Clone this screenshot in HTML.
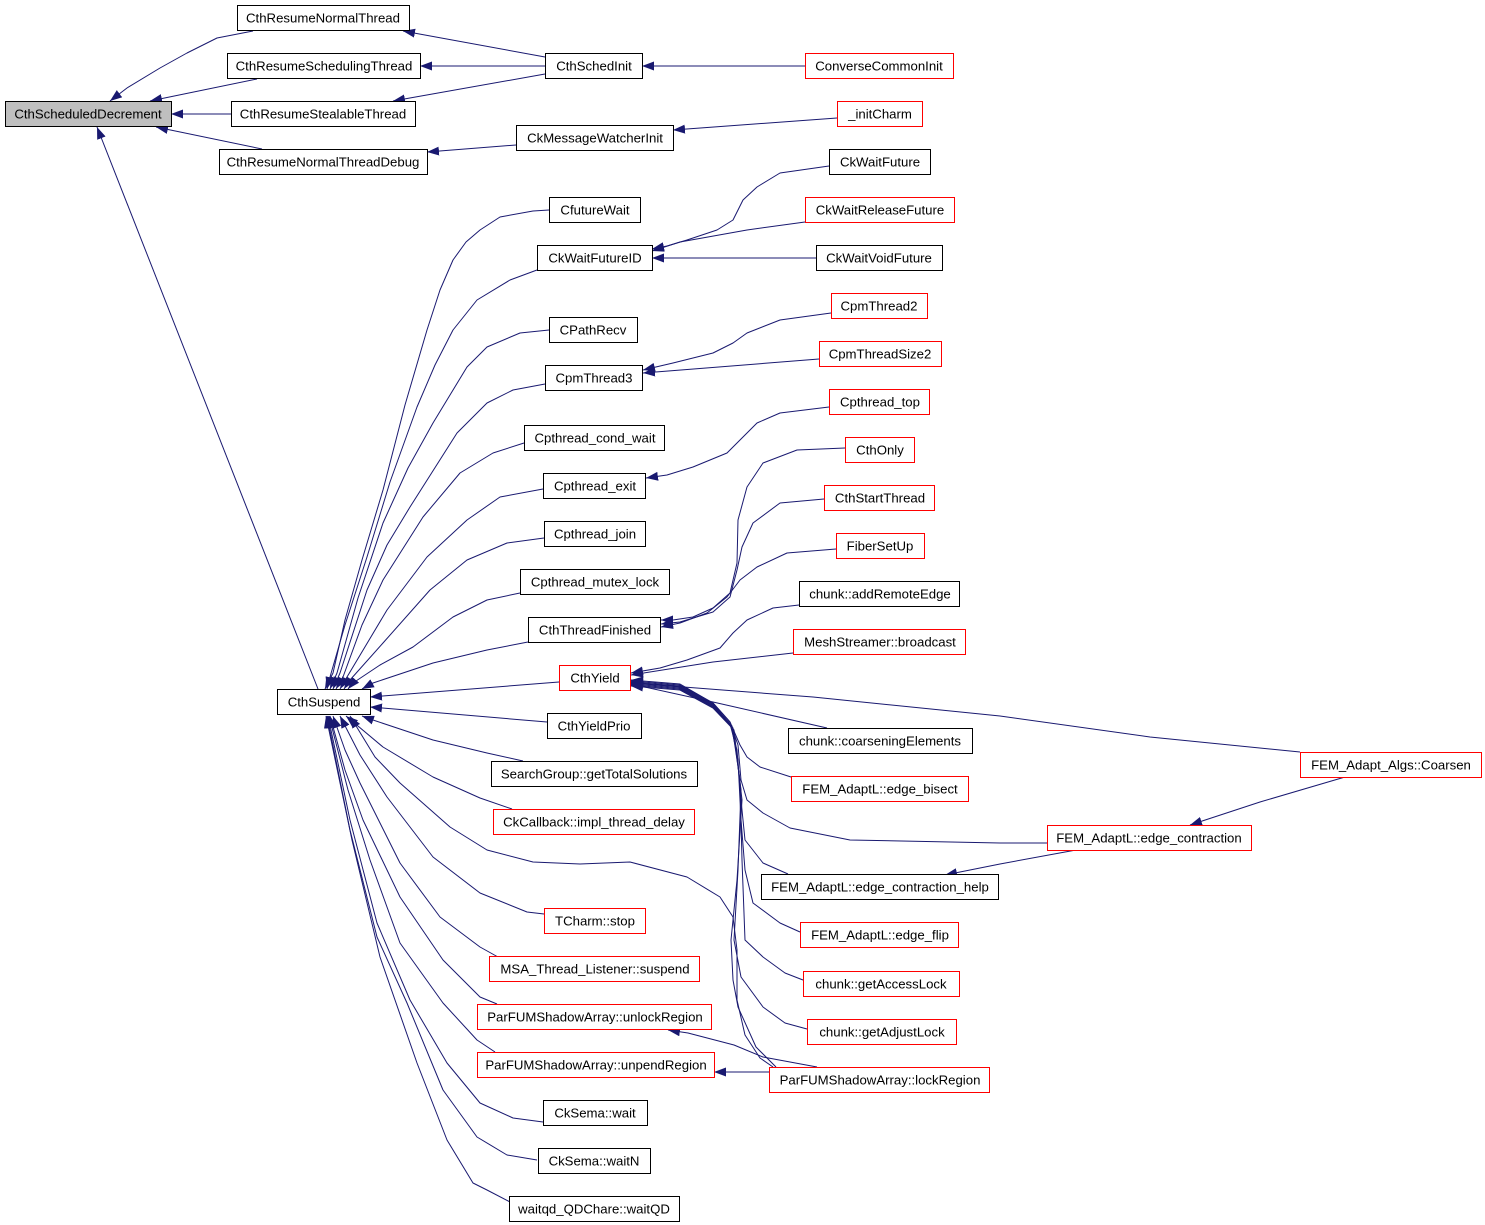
<!DOCTYPE html>
<html><head><meta charset="utf-8"><style>
html,body{margin:0;padding:0;background:#fff;}
svg{display:block;}
text{font-family:"Liberation Sans",Arial,sans-serif;font-size:13.2px;fill:#000;text-anchor:middle;}
.e{fill:none;stroke:#191970;stroke-width:1;stroke-linejoin:round;marker-start:url(#a);}
.b{fill:#fff;stroke:#000;stroke-width:1;}
.r{fill:#fff;stroke:#ff0000;stroke-width:1;}
.g{fill:#bfbfbf;stroke:#000;stroke-width:1;}
</style></head><body>
<svg width="1485" height="1225" viewBox="0 0 1485 1225" xmlns="http://www.w3.org/2000/svg">
<defs>
<marker id="a" viewBox="0 0 12 9" refX="12" refY="4.5" markerWidth="12" markerHeight="9" markerUnits="userSpaceOnUse" orient="auto-start-reverse">
<path d="M0,0 L12,4.5 L0,9 z" fill="#191970"/>
</marker>
</defs>

<!-- edges -->
<polyline class="e" points="110,101 127,88 160,68 187,53 217,38 253,31"/>
<polyline class="e" points="150,101 257,79"/>
<polyline class="e" points="171,114 231,114"/>
<polyline class="e" points="156,127 262,149"/>
<polyline class="e" points="97,127 318,689"/>
<polyline class="e" points="403,31 545,57"/>
<polyline class="e" points="420,66 545,66"/>
<polyline class="e" points="393,101 545,74"/>
<polyline class="e" points="642,66 805,66"/>
<polyline class="e" points="673,130 837,118"/>
<polyline class="e" points="427,152 516,145"/>
<polyline class="e" points="652,249 667,246 687,240 717,230 733,220 743,200 757,187 780,173 829,166"/>
<polyline class="e" points="652,251 680,242 747,230 805,222"/>
<polyline class="e" points="652,258 816,258"/>
<polyline class="e" points="643,370 673,363 713,353 733,343 747,333 780,320 831,313"/>
<polyline class="e" points="643,373 819,359"/>
<polyline class="e" points="646,478 667,475 693,467 727,453 743,437 757,423 780,413 829,407"/>
<polyline class="e" points="661,620 673,620 693,617 713,608 730,593 737,563 738,520 747,487 763,463 797,450 845,448"/>
<polyline class="e" points="661,624 680,622 713,612 730,597 737,570 742,547 753,523 780,503 824,499"/>
<polyline class="e" points="661,627 680,623 707,613 727,597 740,580 757,567 787,553 836,549"/>
<polyline class="e" points="631,673 660,668 687,660 720,648 733,633 747,620 773,608 799,605"/>
<polyline class="e" points="631,675 713,662 793,653"/>
<polyline class="e" points="631,683 813,697 1000,716 1150,737 1300,752"/>
<polyline class="e" points="631,684 713,702 827,728"/>
<polyline class="e" points="631,680 680,684 713,703 730,722 740,745 747,757 760,767 791,777"/>
<polyline class="e" points="631,681 680,685 713,703 730,722 738,745 741,780 747,800 763,813 790,828 850,840 1000,843 1047,843"/>
<polyline class="e" points="631,682 680,686 713,704 730,724 737,750 740,790 745,840 763,863 788,874"/>
<polyline class="e" points="631,683 680,687 713,705 731,725 738,760 741,820 745,870 753,903 780,923 800,932"/>
<polyline class="e" points="631,684 680,688 713,706 732,726 740,780 742,860 745,940 763,957 785,973 803,980"/>
<polyline class="e" points="631,685 680,689 713,707 733,728 741,790 738,870 734,940 741,977 763,1007 785,1023 807,1029"/>
<polyline class="e" points="631,686 680,690 713,708 734,730 742,800 737,880 731,940 733,980 738,1007 756,1047 776,1067"/>
<polyline class="e" points="350,716 375,757 400,783 450,827 487,850 533,862 580,864 630,862 687,877 720,897 733,917 737,950 737,1000 745,1035 760,1058 773,1067"/>
<polyline class="e" points="668,1030 688,1033 734,1045 763,1057 817,1067"/>
<polyline class="e" points="714,1072 769,1072"/>
<polyline class="e" points="945,875 1000,864 1076,850"/>
<polyline class="e" points="1190,825 1260,802 1345,777"/>

<polyline class="e" points="325,689 333,673 345,620 362,560 383,490 405,405 427,330 440,290 453,260 466,242 480,230 500,217 533,211 549,210"/>
<polyline class="e" points="327,689 330,677 345,625 367,557 390,482 417,407 435,365 453,330 477,300 510,280 537,270"/>
<polyline class="e" points="330,689 337,673 358,598 383,523 408,468 433,423 467,367 487,347 520,333 549,330"/>
<polyline class="e" points="333,689 340,673 367,590 387,545 410,507 457,433 487,403 513,390 545,384"/>
<polyline class="e" points="336,689 343,677 362,625 383,580 423,517 460,473 493,453 524,443"/>
<polyline class="e" points="340,689 347,677 387,610 427,557 467,520 500,497 543,489"/>
<polyline class="e" points="344,689 350,680 383,643 430,590 467,560 507,543 544,538"/>
<polyline class="e" points="348,689 353,683 380,665 413,647 453,617 487,600 520,593"/>
<polyline class="e" points="362,689 373,683 433,663 487,650 528,642"/>
<polyline class="e" points="370,697 559,682"/>
<polyline class="e" points="370,707 547,722"/>
<polyline class="e" points="362,716 373,720 433,740 487,753 523,761"/>
<polyline class="e" points="346,716 383,747 433,777 480,798 512,809"/>
<polyline class="e" points="340,716 360,755 387,797 433,857 480,893 527,912 544,914"/>
<polyline class="e" points="333,716 345,750 360,783 400,863 440,917 480,947 498,957"/>
<polyline class="e" points="330,716 345,770 363,820 400,897 443,960 480,997 497,1004"/>
<polyline class="e" points="329,716 348,790 370,860 400,943 443,1003 477,1040 495,1052"/>
<polyline class="e" points="328,716 350,820 377,923 410,1000 447,1063 480,1103 513,1118 543,1122"/>
<polyline class="e" points="327,716 350,830 377,937 407,1003 443,1090 477,1137 507,1155 537,1160"/>
<polyline class="e" points="326,716 352,840 380,957 417,1063 447,1140 473,1183 487,1190 510,1202"/>

<!-- nodes -->
<rect class="g" x="5.5" y="101.5" width="166" height="25"/><text x="88" y="118.5">CthScheduledDecrement</text>
<rect class="b" x="237.5" y="5.5" width="172" height="25"/><text x="323" y="22.5">CthResumeNormalThread</text>
<rect class="b" x="227.5" y="53.5" width="193" height="25"/><text x="324" y="70.5">CthResumeSchedulingThread</text>
<rect class="b" x="231.5" y="101.5" width="184" height="25"/><text x="323" y="118.5">CthResumeStealableThread</text>
<rect class="b" x="219.5" y="149.5" width="208" height="25"/><text x="323" y="166.5">CthResumeNormalThreadDebug</text>
<rect class="b" x="545.5" y="53.5" width="97" height="25"/><text x="594" y="70.5">CthSchedInit</text>
<rect class="r" x="805.5" y="53.5" width="148" height="25"/><text x="879" y="70.5">ConverseCommonInit</text>
<rect class="r" x="837.5" y="101.5" width="85" height="25"/><text x="880" y="118.5">_initCharm</text>
<rect class="b" x="516.5" y="125.5" width="157" height="25"/><text x="595" y="142.5">CkMessageWatcherInit</text>
<rect class="b" x="829.5" y="149.5" width="101" height="25"/><text x="880" y="166.5">CkWaitFuture</text>
<rect class="b" x="549.5" y="197.5" width="91" height="25"/><text x="595" y="214.5">CfutureWait</text>
<rect class="r" x="805.5" y="197.5" width="149" height="25"/><text x="880" y="214.5">CkWaitReleaseFuture</text>
<rect class="b" x="537.5" y="245.5" width="115" height="25"/><text x="595" y="262.5">CkWaitFutureID</text>
<rect class="b" x="816.5" y="245.5" width="126" height="25"/><text x="879" y="262.5">CkWaitVoidFuture</text>
<rect class="r" x="831.5" y="293.5" width="96" height="25"/><text x="879" y="310.5">CpmThread2</text>
<rect class="b" x="549.5" y="317.5" width="88" height="25"/><text x="593" y="334.5">CPathRecv</text>
<rect class="r" x="819.5" y="341.5" width="122" height="25"/><text x="880" y="358.5">CpmThreadSize2</text>
<rect class="b" x="545.5" y="365.5" width="97" height="25"/><text x="594" y="382.5">CpmThread3</text>
<rect class="r" x="829.5" y="389.5" width="100" height="25"/><text x="880" y="406.5">Cpthread_top</text>
<rect class="b" x="524.5" y="425.5" width="140" height="25"/><text x="595" y="442.5">Cpthread_cond_wait</text>
<rect class="r" x="845.5" y="437.5" width="69" height="25"/><text x="880" y="454.5">CthOnly</text>
<rect class="b" x="543.5" y="473.5" width="102" height="25"/><text x="595" y="490.5">Cpthread_exit</text>
<rect class="r" x="824.5" y="485.5" width="110" height="25"/><text x="880" y="502.5">CthStartThread</text>
<rect class="b" x="544.5" y="521.5" width="101" height="25"/><text x="595" y="538.5">Cpthread_join</text>
<rect class="r" x="836.5" y="533.5" width="88" height="25"/><text x="880" y="550.5">FiberSetUp</text>
<rect class="b" x="520.5" y="569.5" width="149" height="25"/><text x="595" y="586.5">Cpthread_mutex_lock</text>
<rect class="b" x="799.5" y="581.5" width="160" height="25"/><text x="880" y="598.5">chunk::addRemoteEdge</text>
<rect class="b" x="528.5" y="617.5" width="132" height="25"/><text x="595" y="634.5">CthThreadFinished</text>
<rect class="r" x="793.5" y="629.5" width="172" height="25"/><text x="880" y="646.5">MeshStreamer::broadcast</text>
<rect class="r" x="559.5" y="665.5" width="71" height="25"/><text x="595" y="682.5">CthYield</text>
<rect class="b" x="277.5" y="689.5" width="93" height="25"/><text x="324" y="706.5">CthSuspend</text>
<rect class="b" x="547.5" y="713.5" width="94" height="25"/><text x="594" y="730.5">CthYieldPrio</text>
<rect class="b" x="788.5" y="728.5" width="184" height="25"/><text x="880" y="745.5">chunk::coarseningElements</text>
<rect class="b" x="491.5" y="761.5" width="206" height="25"/><text x="594" y="778.5">SearchGroup::getTotalSolutions</text>
<rect class="r" x="791.5" y="776.5" width="177" height="25"/><text x="880" y="793.5">FEM_AdaptL::edge_bisect</text>
<rect class="r" x="493.5" y="809.5" width="201" height="25"/><text x="594" y="826.5">CkCallback::impl_thread_delay</text>
<rect class="r" x="1300.5" y="752.5" width="181" height="25"/><text x="1391" y="769.5">FEM_Adapt_Algs::Coarsen</text>
<rect class="r" x="1047.5" y="825.5" width="204" height="25"/><text x="1149" y="842.5">FEM_AdaptL::edge_contraction</text>
<rect class="b" x="761.5" y="874.5" width="237" height="25"/><text x="880" y="891.5">FEM_AdaptL::edge_contraction_help</text>
<rect class="r" x="544.5" y="908.5" width="101" height="25"/><text x="595" y="925.5">TCharm::stop</text>
<rect class="r" x="800.5" y="922.5" width="158" height="25"/><text x="880" y="939.5">FEM_AdaptL::edge_flip</text>
<rect class="r" x="489.5" y="956.5" width="210" height="25"/><text x="595" y="973.5">MSA_Thread_Listener::suspend</text>
<rect class="r" x="803.5" y="971.5" width="156" height="25"/><text x="881" y="988.5">chunk::getAccessLock</text>
<rect class="r" x="477.5" y="1004.5" width="234" height="25"/><text x="595" y="1021.5">ParFUMShadowArray::unlockRegion</text>
<rect class="r" x="807.5" y="1019.5" width="149" height="25"/><text x="882" y="1036.5">chunk::getAdjustLock</text>
<rect class="r" x="477.5" y="1052.5" width="237" height="25"/><text x="596" y="1069.5">ParFUMShadowArray::unpendRegion</text>
<rect class="r" x="769.5" y="1067.5" width="220" height="25"/><text x="880" y="1084.5">ParFUMShadowArray::lockRegion</text>
<rect class="b" x="543.5" y="1100.5" width="104" height="25"/><text x="595" y="1117.5">CkSema::wait</text>
<rect class="b" x="538.5" y="1148.5" width="112" height="25"/><text x="594" y="1165.5">CkSema::waitN</text>
<rect class="b" x="509.5" y="1196.5" width="170" height="25"/><text x="594" y="1213.5">waitqd_QDChare::waitQD</text>
</svg>
</body></html>
